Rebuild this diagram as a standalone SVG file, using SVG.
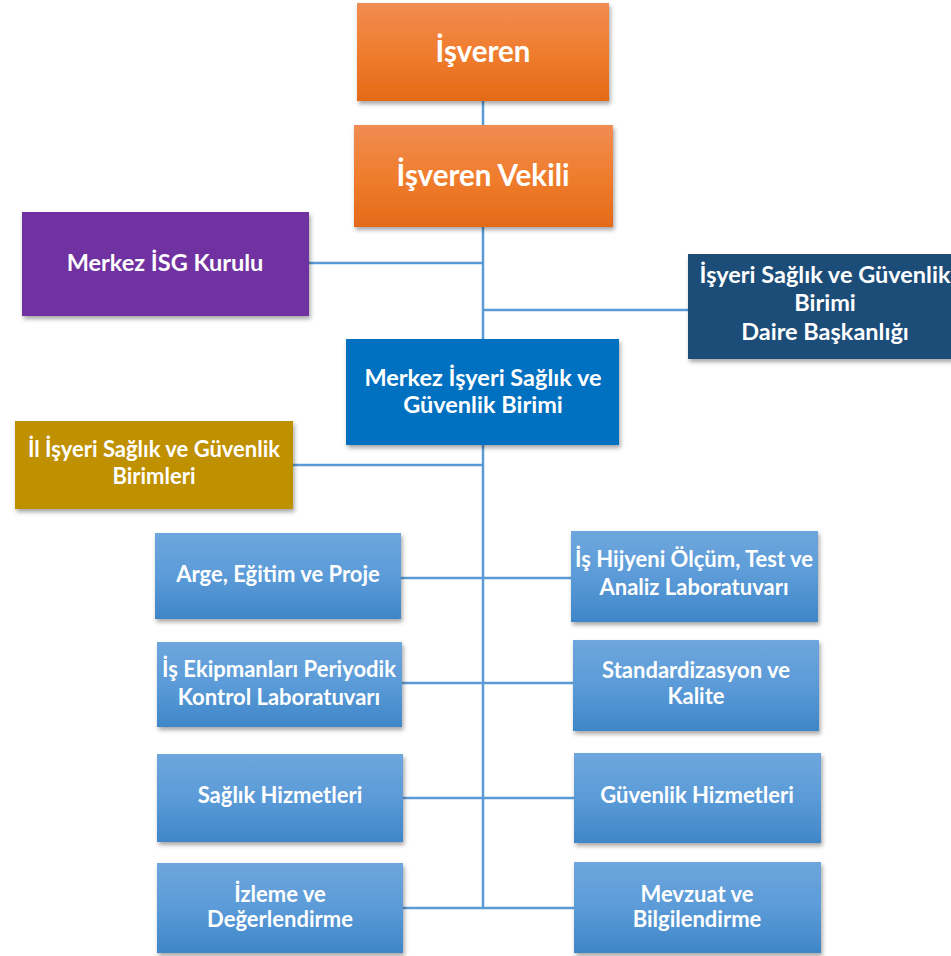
<svg xmlns="http://www.w3.org/2000/svg" width="951" height="956" viewBox="0 0 951 956">
<defs>
<linearGradient id="gOrange" x1="0" y1="0" x2="0" y2="1">
<stop offset="0" stop-color="#F08C52"/>
<stop offset="0.5" stop-color="#F07D2E"/>
<stop offset="1" stop-color="#E36A18"/>
</linearGradient>
<linearGradient id="gBlue" x1="0" y1="0" x2="0" y2="1">
<stop offset="0" stop-color="#6EA6DD"/>
<stop offset="0.5" stop-color="#5B9BD8"/>
<stop offset="1" stop-color="#3F86C8"/>
</linearGradient>
<filter id="sh" x="-10%" y="-10%" width="125%" height="130%">
<feDropShadow dx="1.5" dy="3" stdDeviation="2" flood-color="#000" flood-opacity="0.35"/>
</filter>
</defs>
<style>
.box{filter:url(#sh);}
.or{fill:url(#gOrange);}
.lb{fill:url(#gBlue);}
.t{font-family:Lato,"Open Sans","Liberation Sans",sans-serif;font-weight:700;fill:#FFFFFF;text-anchor:middle;font-size:22px;}
.mid{font-size:23.5px;}
.big{font-size:29.5px;}
.c{stroke:#5B9BD5;stroke-width:2.5;fill:none;}
</style>
<rect width="951" height="956" fill="#FFFFFF"/>
<g id="connectors">
<line class="c" x1="483" y1="100" x2="483" y2="909"/>
<line class="c" x1="309" y1="263" x2="483" y2="263"/>
<line class="c" x1="483" y1="310" x2="688" y2="310"/>
<line class="c" x1="293" y1="465" x2="483" y2="465"/>
<line class="c" x1="401" y1="578" x2="571" y2="578"/>
<line class="c" x1="402" y1="683" x2="573" y2="683"/>
<line class="c" x1="403" y1="798" x2="574" y2="798"/>
<line class="c" x1="403" y1="908" x2="574" y2="908"/>
</g>
<g id="isveren">
<rect class="box or" x="357" y="3" width="252" height="98"/>
<text class="t big" x="483" y="62">İşveren</text>
</g>
<g id="isveren-vekili">
<rect class="box or" x="354" y="125" width="259" height="102"/>
<text class="t big" x="483" y="186">İşveren Vekili</text>
</g>
<g id="merkez-isg-kurulu">
<rect class="box" x="22" y="212" width="287" height="104" fill="#7030A0"/>
<text class="t mid" x="165" y="271">Merkez İSG Kurulu</text>
</g>
<g id="daire-baskanligi">
<rect class="box" x="688" y="254" width="274" height="105" fill="#1F4E79"/>
<text class="t mid" x="825" y="283">İşyeri Sağlık ve Güvenlik</text>
<text class="t mid" x="825" y="311">Birimi</text>
<text class="t mid" x="825" y="340">Daire Başkanlığı</text>
</g>
<g id="merkez-isyeri-birimi">
<rect class="box" x="346" y="339" width="273" height="106" fill="#0070C0"/>
<text class="t mid" x="483" y="386">Merkez İşyeri Sağlık ve</text>
<text class="t mid" x="483" y="413">Güvenlik Birimi</text>
</g>
<g id="il-birimleri">
<rect class="box" x="15" y="421" width="278" height="88" fill="#BF9000"/>
<text class="t" x="154" y="457">İl İşyeri Sağlık ve Güvenlik</text>
<text class="t" x="154" y="484">Birimleri</text>
</g>
<g id="arge">
<rect class="box lb" x="155" y="533" width="246" height="86"/>
<text class="t" x="278" y="582">Arge, Eğitim ve Proje</text>
</g>
<g id="is-hijyeni">
<rect class="box lb" x="571" y="531" width="247" height="91"/>
<text class="t" x="694" y="567">İş Hijyeni Ölçüm, Test ve</text>
<text class="t" x="694" y="595">Analiz Laboratuvarı</text>
</g>
<g id="is-ekipmanlari">
<rect class="box lb" x="157" y="642" width="245" height="85"/>
<text class="t" x="279" y="677">İş Ekipmanları Periyodik</text>
<text class="t" x="279" y="705">Kontrol Laboratuvarı</text>
</g>
<g id="standardizasyon">
<rect class="box lb" x="573" y="640" width="246" height="91"/>
<text class="t" x="696" y="678">Standardizasyon ve</text>
<text class="t" x="696" y="704">Kalite</text>
</g>
<g id="saglik-hizmetleri">
<rect class="box lb" x="157" y="754" width="246" height="88"/>
<text class="t" x="280" y="803">Sağlık Hizmetleri</text>
</g>
<g id="guvenlik-hizmetleri">
<rect class="box lb" x="574" y="753" width="247" height="90"/>
<text class="t" x="697" y="803">Güvenlik Hizmetleri</text>
</g>
<g id="izleme">
<rect class="box lb" x="157" y="863" width="246" height="90"/>
<text class="t" x="280" y="902">İzleme ve</text>
<text class="t" x="280" y="927">Değerlendirme</text>
</g>
<g id="mevzuat">
<rect class="box lb" x="574" y="862" width="247" height="91"/>
<text class="t" x="697" y="902">Mevzuat ve</text>
<text class="t" x="697" y="927">Bilgilendirme</text>
</g>
</svg>
